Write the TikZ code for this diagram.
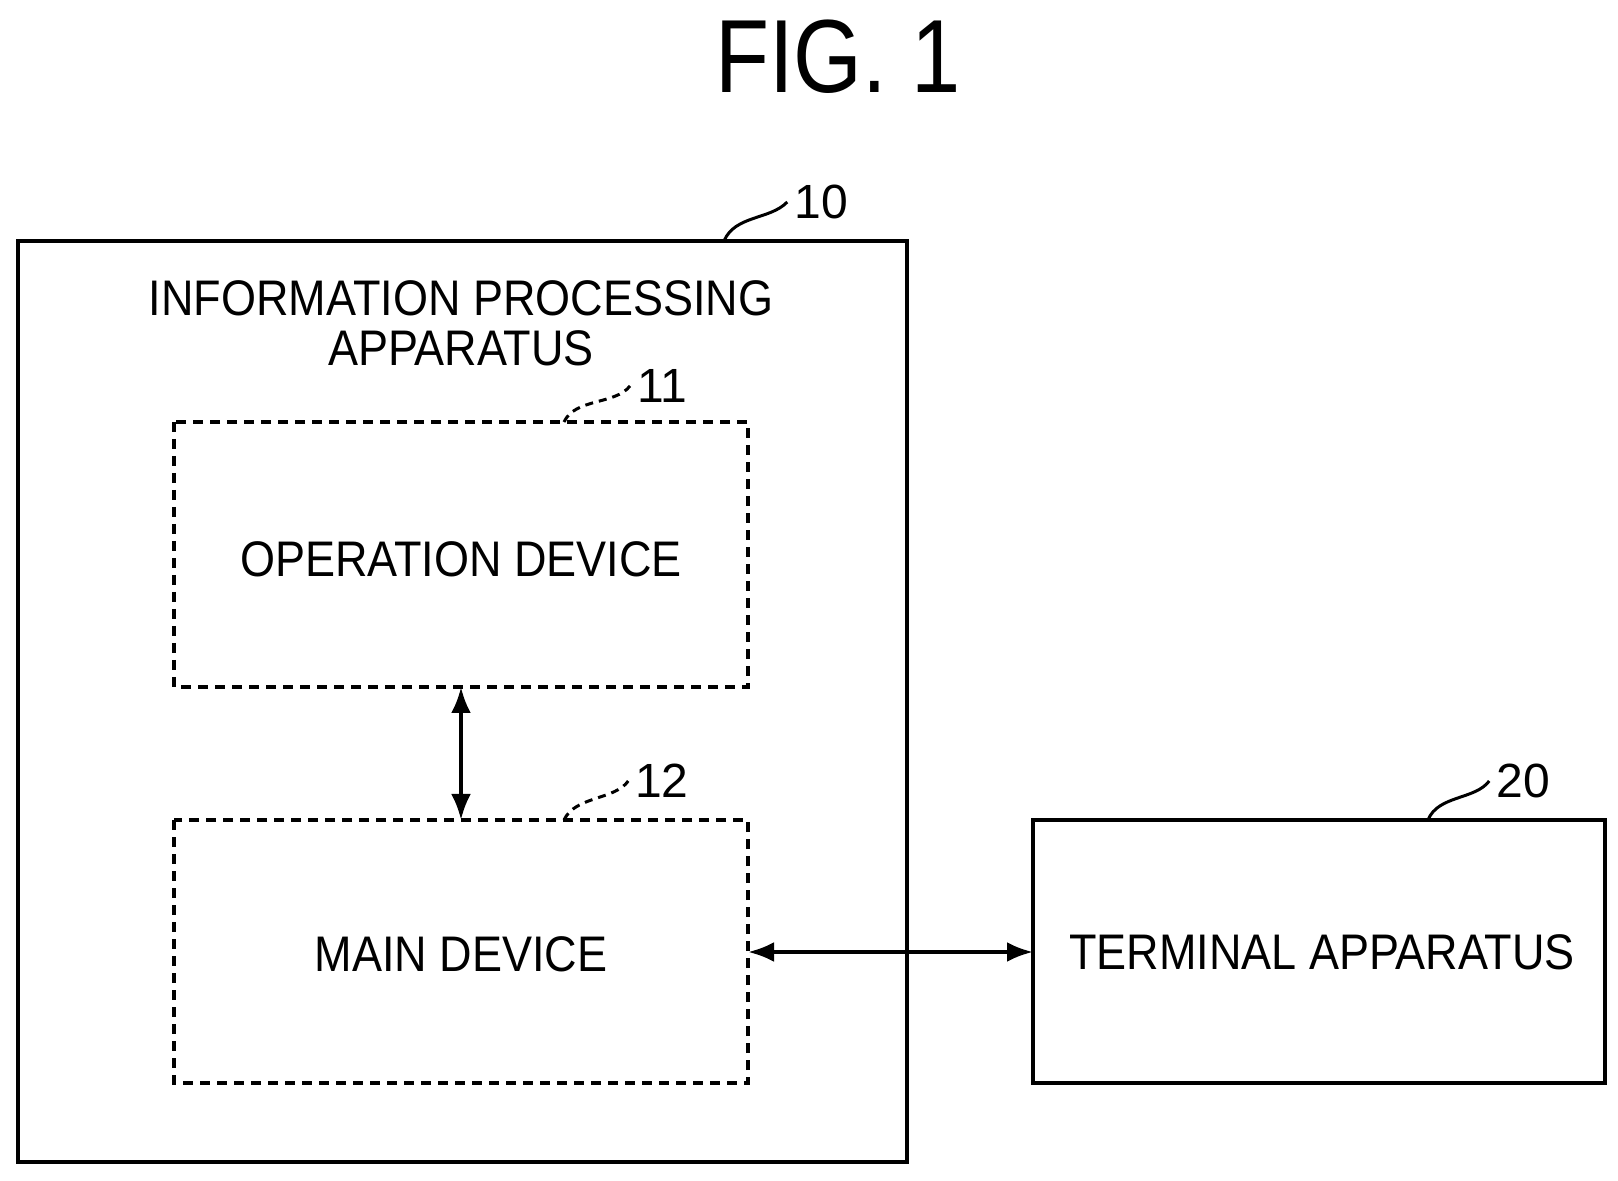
\documentclass[tikz,border=0pt]{standalone}
\usepackage{fontspec}
\setmainfont{Liberation Sans}
\usetikzlibrary{arrows.meta}
\begin{document}
\begin{tikzpicture}[x=0.5pt,y=-0.5pt,
  box/.style={draw,line width=2pt},
  dbox/.style={draw,line width=1.7pt,dash pattern=on 5pt off 3.5pt},
  lbl/.style={font=\fontsize{25}{28}\selectfont\addfontfeature{FakeStretch=0.9}},
  num/.style={font=\fontsize{24}{26}\selectfont},
  lead/.style={line width=1.5pt},
  arr/.style={line width=2pt,{Latex[length=13pt,width=10pt]}-{Latex[length=13pt,width=10pt]}}]
\useasboundingbox (0,0) rectangle (1618,1181);
\node[font=\fontsize{52}{56}\selectfont\addfontfeature{FakeStretch=0.85}] (fig) at (838,57) {FIG. 1};
\draw[box] (18,241) rectangle (907,1162);
\node[lbl,align=center,inner sep=0pt] (t10) at (461,323) {INFORMATION PROCESSING\\[-3pt]APPARATUS};
\draw[dbox] (174,422) rectangle (748,687);
\node[lbl] (op) at (461,559) {OPERATION DEVICE};
\draw[dbox] (174,820) rectangle (748,1083);
\node[lbl] (main) at (461,954) {MAIN DEVICE};
\coordinate (opb) at (461,687);
\coordinate (mt) at (461,820);
\coordinate (me) at (748,952);
\draw[box] (1033,820) rectangle (1605,1083);
\node[lbl] (term) at (1322,952) {TERMINAL APPARATUS};
\coordinate (tw) at (1033,952);
\node[num] (n10) at (821,202) {10};
\node[num] (n11) at (662,386) {11};
\node[num] (n12) at (662,781) {12};
\node[num] (n20) at (1523,781) {20};
\draw[lead] (724,241) .. controls (735,215) and (770,220) .. (n10.west);
\draw[lead,dash pattern=on 4pt off 3pt] (564,422) .. controls (575,398) and (615,405) .. (n11.west);
\draw[lead,dash pattern=on 4pt off 3pt] (564,820) .. controls (575,796) and (615,800) .. (n12.west);
\draw[lead] (1428,820) .. controls (1438,795) and (1475,800) .. (n20.west);
\draw[arr] (opb) -- (mt);
\draw[arr] (me) -- (tw);
\end{tikzpicture}
\end{document}
